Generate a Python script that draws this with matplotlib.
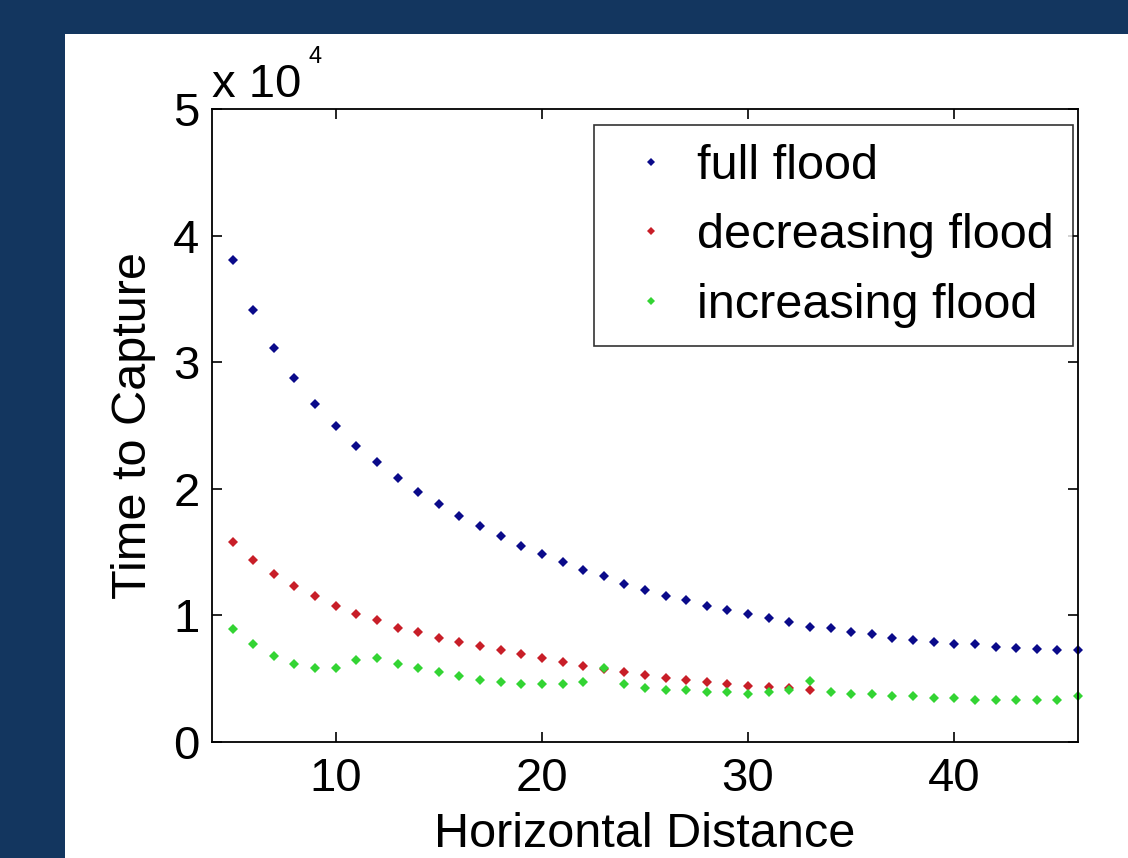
import numpy as np, matplotlib
matplotlib.use('Agg')
import matplotlib.pyplot as plt
from matplotlib.patches import Rectangle
from matplotlib.ticker import FuncFormatter

# horizontal distance (x) and time to capture (units of 1e4)
dist_long = [5, 6, 7, 8, 9, 10, 11, 12, 13, 14, 15, 16, 17, 18, 19, 20, 21, 22, 23, 24, 25,
             26, 27, 28, 29, 30, 31, 32, 33, 34, 35, 36, 37, 38, 39, 40, 41, 42, 43, 44, 45, 46]
dist_short = [5, 6, 7, 8, 9, 10, 11, 12, 13, 14, 15, 16, 17, 18, 19, 20, 21, 22, 23, 24, 25,
              26, 27, 28, 29, 30, 31, 32, 33]
full_flood = [3.81, 3.415, 3.115, 2.878, 2.67, 2.496, 2.338, 2.212, 2.085, 1.975, 1.88, 1.785,
              1.706, 1.627, 1.548, 1.485, 1.419, 1.356, 1.309, 1.246, 1.2, 1.153, 1.119, 1.074,
              1.04, 1.011, 0.977, 0.948, 0.911, 0.898, 0.869, 0.853, 0.819, 0.803, 0.79, 0.774,
              0.771, 0.753, 0.745, 0.737, 0.724, 0.724]
decr_flood = [1.577, 1.435, 1.327, 1.23, 1.151, 1.072, 1.009, 0.961, 0.898, 0.866, 0.819, 0.787,
              0.756, 0.724, 0.693, 0.661, 0.63, 0.598, 0.574, 0.55, 0.532, 0.506, 0.492, 0.476,
              0.458, 0.442, 0.432, 0.429, 0.411]
incr_flood = [0.895, 0.771, 0.677, 0.614, 0.582, 0.582, 0.645, 0.661, 0.614, 0.582, 0.55, 0.519,
              0.487, 0.472, 0.456, 0.456, 0.456, 0.472, 0.582, 0.456, 0.424, 0.413, 0.413, 0.392,
              0.392, 0.377, 0.397, 0.413, 0.482, 0.392, 0.377, 0.382, 0.361, 0.366, 0.345, 0.345,
              0.329, 0.329, 0.329, 0.329, 0.329, 0.361]
SCALE = 1e4

C_BG = '#13365f'
C_BLUE = '#0a0a8a'; C_RED = '#c81e28'; C_GREEN = '#33d433'
FS = 34

plt.rcParams['font.family'] = ['Liberation Sans', 'DejaVu Sans']

fig = plt.figure(figsize=(11.28, 8.58), dpi=100, facecolor=C_BG)
fig.patches.append(Rectangle((65/1128, 0), 1 - 65/1128, 1 - 34/858, transform=fig.transFigure,
                             facecolor='white', edgecolor='none', zorder=-5))
ax = fig.add_axes([212/1128, 116/858, 866/1128, 633/858])
ax.set_zorder(2)

ms = 4.8
ax.plot(dist_long, np.array(full_flood)*SCALE, 'D', color=C_BLUE, ms=ms, mew=0, label='full flood', clip_on=False)
ax.plot(dist_short, np.array(decr_flood)*SCALE, 'D', color=C_RED, ms=ms, mew=0, label='decreasing flood', clip_on=False)
ax.plot(dist_long, np.array(incr_flood)*SCALE, 'D', color=C_GREEN, ms=ms, mew=0, label='increasing flood', clip_on=False)

ax.set_xlim(4, 46); ax.set_ylim(0, 5e4)
ax.set_xticks([10, 20, 30, 40])
ax.set_yticks([0, 1e4, 2e4, 3e4, 4e4, 5e4])
ax.yaxis.set_major_formatter(FuncFormatter(lambda v, _: f'{v/SCALE:g}'))
ax.tick_params(direction='in', length=7, width=1.2, top=True, right=True, labelsize=FS, colors='black')
ax.tick_params(axis='x', pad=11)
ax.tick_params(axis='y', pad=9)
for s in ax.spines.values(): s.set_linewidth(1.3)

ax.set_xlabel('Horizontal Distance', fontsize=FS+1, labelpad=8)
ax.set_ylabel('Time to Capture', fontsize=FS+1, labelpad=12)

ax.text(0.0, 1.019, 'x 10', transform=ax.transAxes, fontsize=FS, ha='left', va='baseline')
ax.text(0.112, 1.073, '4', transform=ax.transAxes, fontsize=17, ha='left', va='baseline')

leg = ax.legend(loc='upper right', bbox_to_anchor=(0.9939, 0.974), borderaxespad=0, fontsize=FS+1,
                frameon=True, fancybox=False, edgecolor='black', handlelength=1.6, handletextpad=0.15,
                labelspacing=0.5, borderpad=0.38, markerscale=0.85)
leg.get_frame().set_linewidth(1.2)

fig.savefig('out.png', dpi=100, facecolor=C_BG)
